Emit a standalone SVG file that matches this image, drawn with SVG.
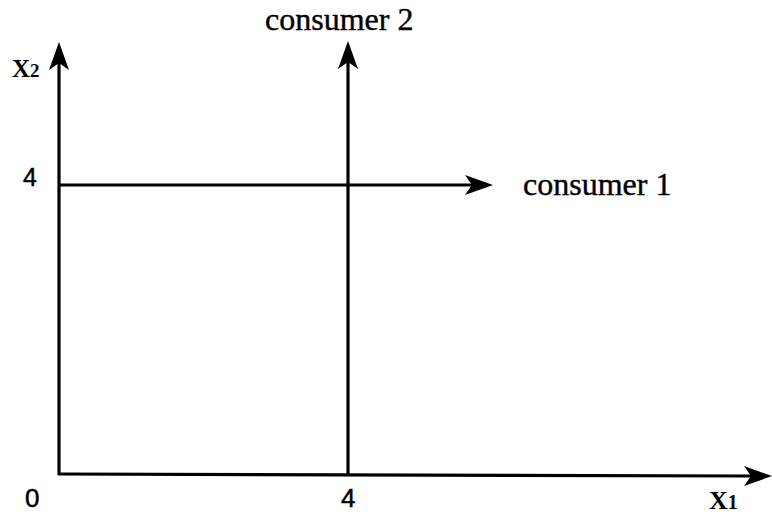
<svg xmlns="http://www.w3.org/2000/svg" width="772" height="514" viewBox="0 0 772 514">
<style>
.ln{stroke:#000;stroke-width:3.2;fill:none;marker-end:url(#ah)}
.serif{font-family:"Liberation Serif","Times New Roman",serif;fill:#000}
.sans{font-family:"Liberation Sans",Arial,sans-serif;fill:#000}
</style>
<defs>
<marker id="ah" markerUnits="userSpaceOnUse" markerWidth="32" markerHeight="24" viewBox="0 -12 32 24" refX="7" refY="0" orient="auto">
<path d="M0,-10 L28,0 L0,10 L7,0 Z" fill="#000"/>
</marker>
</defs>
<rect width="772" height="514" fill="#fff"/>
<g id="connectors">
<line id="x2-axis" class="ln" x1="59" y1="475" x2="59" y2="63"/>
<line id="x1-axis" class="ln" x1="58" y1="474" x2="751" y2="476"/>
<line id="consumer1-line" class="ln" x1="59" y1="185" x2="472" y2="185"/>
<line id="consumer2-line" class="ln" x1="348" y1="475" x2="348" y2="62"/>
</g>
<g id="label-consumer2"><text class="serif" x="265" y="30" font-size="32" stroke="#000" stroke-width="0.4">consumer 2</text></g>
<g id="label-consumer1"><text class="serif" x="523" y="195" font-size="32" stroke="#000" stroke-width="0.4">consumer 1</text></g>
<g id="label-x2"><text class="serif" x="12" y="77" font-size="25" font-weight="bold">X<tspan font-size="19">2</tspan></text></g>
<g id="label-x1"><text class="serif" x="709" y="509" font-size="26" font-weight="bold">X<tspan font-size="20">1</tspan></text></g>
<g id="tick-4-left"><text class="sans" x="23" y="186" font-size="25" stroke="#000" stroke-width="0.5">4</text></g>
<g id="tick-0"><text class="sans" x="25" y="507" font-size="26" stroke="#000" stroke-width="0.5">0</text></g>
<g id="tick-4-bottom"><text class="sans" x="341" y="507" font-size="26" stroke="#000" stroke-width="0.5">4</text></g>
</svg>
